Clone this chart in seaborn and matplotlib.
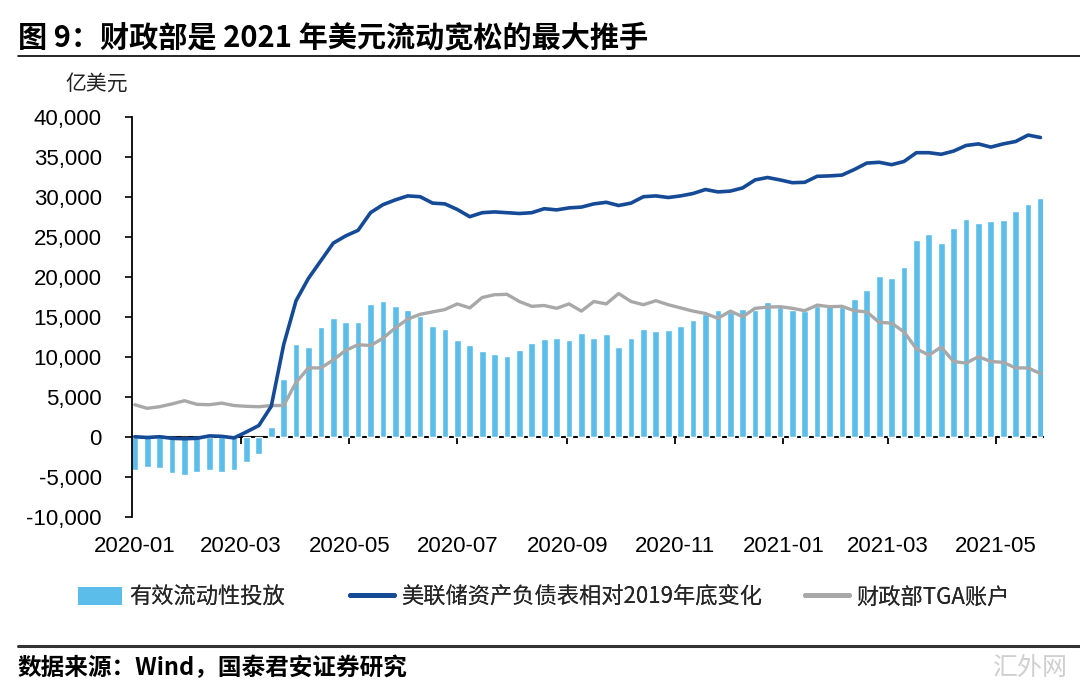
import matplotlib
matplotlib.use("Agg")
import matplotlib.pyplot as plt
import matplotlib.dates as mdates
from matplotlib.lines import Line2D
from matplotlib.patches import Patch
import seaborn as sns
import pandas as pd
import numpy as np

# ---------------- data (亿美元, weekly from 2020-01-01) ----------------
start_date = "2020-01-01"
liquidity = [-4200, -3750, -3950, -4500, -4800, -4400, -4200, -4400, -4150, -3100,
             -2200, 1250, 7200, 11600, 11200, 13700, 14900, 14400, 14300, 16600,
             17000, 16300, 15900, 15100, 13800, 13500, 12100, 11500, 10700, 10350,
             10100, 10850, 11700, 12250, 12400, 12100, 13000, 12300, 12800, 11250,
             12400, 13500, 13250, 13400, 13900, 14600, 15350, 15800, 15550, 15950,
             15800, 16800, 16250, 15850, 15750, 16300, 16450, 16250, 17200, 18300,
             20050, 19900, 21200, 24600, 25400, 24200, 26100, 27250, 26700, 26950,
             27100, 28250, 29050, 29800]
fed_change = [0, -100, 0, -200, -250, -200, 100, 50, -150, 600,
              1400, 3800, 11500, 17000, 19800, 22000, 24200, 25100, 25800, 28000,
              29000, 29600, 30100, 30000, 29200, 29100, 28400, 27500, 28000, 28100,
              28000, 27900, 28000, 28500, 28350, 28600, 28700, 29100, 29300, 28900,
              29200, 30000, 30100, 29900, 30100, 30400, 30900, 30600, 30700, 31100,
              32100, 32400, 32100, 31750, 31800, 32550, 32600, 32700, 33400, 34200,
              34300, 34000, 34400, 35500, 35500, 35300, 35700, 36400, 36600, 36200,
              36600, 36900, 37700, 37400]
tga = [4000, 3550, 3750, 4100, 4500, 4050, 4000, 4200, 3900, 3800,
       3750, 3900, 3900, 6800, 8600, 8600, 9600, 10800, 11500, 11400,
       12300, 13600, 14700, 15300, 15600, 15900, 16600, 16100, 17400, 17750,
       17800, 16900, 16300, 16400, 16050, 16600, 15700, 16900, 16600, 17900,
       16900, 16500, 17000, 16500, 16100, 15700, 15400, 14800, 15700, 15000,
       16050, 16200, 16250, 16050, 15750, 16450, 16250, 16300, 15750, 15600,
       14300, 14200, 13100, 11000, 10200, 11200, 9400, 9200, 10000, 9400,
       9300, 8600, 8600, 7900]

xtick_dates = ["2020-01-01", "2020-03-01", "2020-05-01", "2020-07-01", "2020-09-01",
               "2020-11-01", "2021-01-01", "2021-03-01", "2021-05-01"]
xtick_labels = ["2020-01", "2020-03", "2020-05", "2020-07", "2020-09",
                "2020-11", "2021-01", "2021-03", "2021-05"]
ytick_values = [-10000, -5000, 0, 5000, 10000, 15000, 20000, 25000, 30000, 35000, 40000]
ytick_labels = ["-10,000", "-5,000", "0", "5,000", "10,000", "15,000", "20,000",
                "25,000", "30,000", "35,000", "40,000"]

series_names = ["有效流动性投放", "美联储资产负债表相对2019年底变化", "财政部TGA账户"]
title_text = "图 9：财政部是 2021 年美元流动宽松的最大推手"
unit_text = "亿美元"
source_text = "数据来源：Wind，国泰君安证券研究"

# ---------------- styling ----------------
BAR_C = "#5BBDE9"
FED_C = "#154A96"
TGA_C = "#A8A8A8"

sns.set_theme(style="white")
plt.rcParams["font.family"] = ["Liberation Sans", "Noto Sans CJK SC", "DejaVu Sans"]
plt.rcParams["axes.unicode_minus"] = False
CJK = ["Noto Sans CJK SC", "Liberation Sans", "DejaVu Sans"]

dates = pd.date_range(start_date, periods=len(liquidity), freq="7D")
xnum = mdates.date2num(dates.to_pydatetime())
df = pd.DataFrame({"x": xnum, "liq": liquidity, "fed": fed_change, "tga": tga})

fig = plt.figure(figsize=(10.8, 6.95), dpi=100)
ax = fig.add_axes([0.1225, 0.2565, 0.966 - 0.1225, 0.8321 - 0.2565])

sns.barplot(data=df, x="x", y="liq", native_scale=True, color=BAR_C, saturation=1,
            width=0.54, errorbar=None, ax=ax, zorder=2)
sns.lineplot(data=df, x="x", y="tga", color=TGA_C, lw=2.4, ax=ax, zorder=3)
sns.lineplot(data=df, x="x", y="fed", color=FED_C, lw=2.6, ax=ax, zorder=4)

ax.set_xlim(xnum[0] - 1.4, xnum[-1] + 1.6)
ax.set_ylim(-10000, 40000)
ax.set_xlabel("")
ax.set_ylabel("")

tick_pos = mdates.date2num(pd.to_datetime(xtick_dates).to_pydatetime())
ax.set_xticks(tick_pos)
ax.set_xticklabels(xtick_labels)
ax.tick_params(axis="x", length=0, pad=14, labelsize=16, colors="black")
ax.set_yticks(ytick_values)
ax.set_yticklabels(ytick_labels)
ax.tick_params(axis="y", direction="out", length=5, width=1.2, pad=17,
               labelsize=16, colors="black", left=True)

for s in ["top", "right", "bottom"]:
    ax.spines[s].set_visible(False)
ax.spines["left"].set_color("black")
ax.spines["left"].set_linewidth(1.3)

# zero-line axis with tick marks
sec = ax.secondary_xaxis(0.2)
sec.set_xticks(tick_pos)
sec.tick_params(axis="x", direction="out", length=5, width=1.3, labelbottom=False,
                colors="black")
sec.spines["bottom"].set_color("black")
sec.spines["bottom"].set_linewidth(1.5)
sec.set_xlabel("")

# ---------------- texts / decorations ----------------
fig.text(18 / 1080, 1 - 37 / 695, title_text, fontsize=21, fontweight="bold",
         ha="left", va="center", family=CJK, color="black")
fig.add_artist(Line2D([18 / 1080, 1.0], [1 - 56 / 695] * 2, color="black", lw=1.2,
                      transform=fig.transFigure))
fig.text(97 / 1080, 1 - 84 / 695, unit_text, fontsize=15, ha="center", va="center",
         family=CJK, color="#222222")

leg_y = 1 - 597 / 695
h1 = Patch(facecolor=BAR_C, edgecolor="none")
h2 = Line2D([], [], color=FED_C, lw=3.5)
h3 = Line2D([], [], color=TGA_C, lw=3.5)
for h, lab, x0 in [(h1, series_names[0], 78), (h2, series_names[1], 350),
                   (h3, series_names[2], 805)]:
    lg = fig.legend(handles=[h], labels=[lab], loc="center left",
                    bbox_to_anchor=(x0 / 1080, leg_y), frameon=False,
                    borderpad=0, borderaxespad=0, handlelength=2.0,
                    handleheight=0.85, handletextpad=0.3,
                    prop={"family": CJK, "size": 16})
    fig.add_artist(lg)

fig.add_artist(Line2D([18 / 1080, 1.0], [1 - 646 / 695] * 2, color="#333333", lw=2.2,
                      transform=fig.transFigure))
fig.text(18 / 1080, 1 - 668 / 695, source_text, fontsize=17, fontweight="bold",
         ha="left", va="center", family=CJK, color="black")
fig.text(1030 / 1080, 1 - 668 / 695, "汇外网", fontsize=18, ha="center", va="center",
         family=CJK, color="#cfcfcf")

fig.savefig("out.png", dpi=100)
